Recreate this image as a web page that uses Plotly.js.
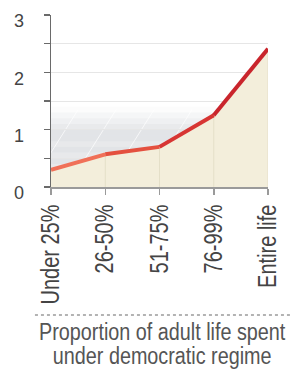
<!DOCTYPE html>
<html>
<head>
<meta charset="utf-8">
<script src="https://cdn.plot.ly/plotly-3.0.1.min.js"></script>
<style>html,body{margin:0;padding:0;background:#fff;}#chart{width:293px;height:371px;}</style>
</head>
<body>
<div id="chart"></div>
<script>
var categories = ["Under 25%", "26-50%", "51-75%", "76-99%", "Entire life"];
var values = [0.30, 0.57, 0.70, 1.25, 2.41];
var yTickVals = [0, 0.5, 1, 1.5, 2, 2.5, 3];
var yTickText = ["0", "", "1", "", "2", "", "3"];
var xTitleLines = ["Proportion of adult life spent", "under democratic regime"];

var FONT = "'Liberation Sans', Arial, sans-serif";
var segColors = ["#f07058", "#e4503f", "#d73533", "#c9252c"];

var traces = [];
traces.push({x: categories, y: values, type: "scatter", mode: "none", fill: "tozeroy",
  fillcolor: "#f3eedb", hoverinfo: "skip", showlegend: false});
var vx = [], vy = [];
for (var i = 1; i < categories.length; i++) { vx.push(categories[i], categories[i], null); vy.push(0, values[i], null); }
traces.push({x: vx, y: vy, type: "scatter", mode: "lines", line: {color: "#e4dfc8", width: 1},
  hoverinfo: "skip", showlegend: false});
for (var s = 0; s < categories.length - 1; s++) {
  traces.push({x: categories.slice(s, s + 2), y: values.slice(s, s + 2), type: "scatter", mode: "lines",
    line: {color: segColors[s], width: 4}, hoverinfo: "skip", showlegend: false});
}

var shapes = [];
var nb = 14;
for (var b = 0; b < nb; b++) {
  var y0 = 1.4 * b / nb, y1 = 1.4 * (b + 1) / nb;
  var mid = (y0 + y1) / 2;
  var a = mid < 0.95 ? 0.22 - 0.04 * (b % 2) : Math.max(0, 0.22 * (1.4 - mid) / 0.45);
  shapes.push({type: "rect", xref: "x", yref: "y", x0: 0, x1: 3.05, y0: y0, y1: y1, layer: "below",
    line: {width: 0}, fillcolor: "rgba(125,132,145," + a.toFixed(3) + ")"});
}
for (var d = 0; d < 5; d++) {
  shapes.push({type: "line", xref: "x", yref: "y", x0: -0.2 + d * 0.7, x1: 0.5 + d * 0.7, y0: 0.3, y1: 1.35,
    layer: "below", line: {color: "rgba(255,255,255,0.7)", width: 1}});
}
shapes.push({type: "rect", xref: "x", yref: "y", xsizemode: "pixel", xanchor: 0, x0: -5, x1: 0,
  y0: 0, y1: values[0], line: {width: 0}, fillcolor: "#8e1c1c"});
shapes.push({type: "line", xref: "paper", yref: "paper", x0: -0.074, x1: 1.101, y0: -0.744, y1: -0.744,
  line: {color: "#9a9a9a", width: 1.5, dash: "dot"}});

var annotations = xTitleLines.map(function (t, k) {
  return {xref: "paper", yref: "paper", x: 0.512, y: -0.845 - k * 0.14, xanchor: "center", yanchor: "middle",
    text: t, showarrow: false, font: {family: FONT, size: 23, color: "#555"}};
});

var layout = {
  width: 293, height: 371,
  margin: {l: 51, r: 25, t: 15, b: 184},
  paper_bgcolor: "#ffffff", plot_bgcolor: "rgba(0,0,0,0)",
  showlegend: false,
  xaxis: {type: "category", range: [0, 4], showgrid: false, zeroline: false,
    showline: true, linecolor: "#9a9a9a", linewidth: 1.5,
    ticks: "outside", ticklen: 6, tickcolor: "#9a9a9a", tickwidth: 1.5,
    tickangle: -90, tickfont: {family: FONT, size: 25, color: "#444"}, ticklabelstandoff: 0},
  yaxis: {range: [0, 3.0001], tickvals: yTickVals, ticktext: yTickText, showgrid: true, gridcolor: "#e6e6e6",
    zeroline: false, showline: true, linecolor: "#6a6a6a", linewidth: 1.5,
    ticks: "outside", ticklen: 6, tickcolor: "#6a6a6a", tickwidth: 1.5,
    tickfont: {family: FONT, size: 18, color: "#444"}, ticklabelstandoff: 16, ticklabelshift: 6},
  shapes: shapes,
  annotations: annotations
};

function squeeze(nodes, factor) {
  nodes.forEach(function (t) {
    var L = t.getComputedTextLength();
    if (L > 0) { t.setAttribute("textLength", (L * factor).toFixed(2)); t.setAttribute("lengthAdjust", "spacingAndGlyphs"); }
  });
}

Plotly.newPlot("chart", traces, layout, {staticPlot: true, displayModeBar: false}).then(function (gd) {
  squeeze(Array.prototype.slice.call(gd.querySelectorAll(".xtick text")), 0.8);
  squeeze(Array.prototype.slice.call(gd.querySelectorAll(".annotation-text")), 0.86);
});
</script>
</body>
</html>
